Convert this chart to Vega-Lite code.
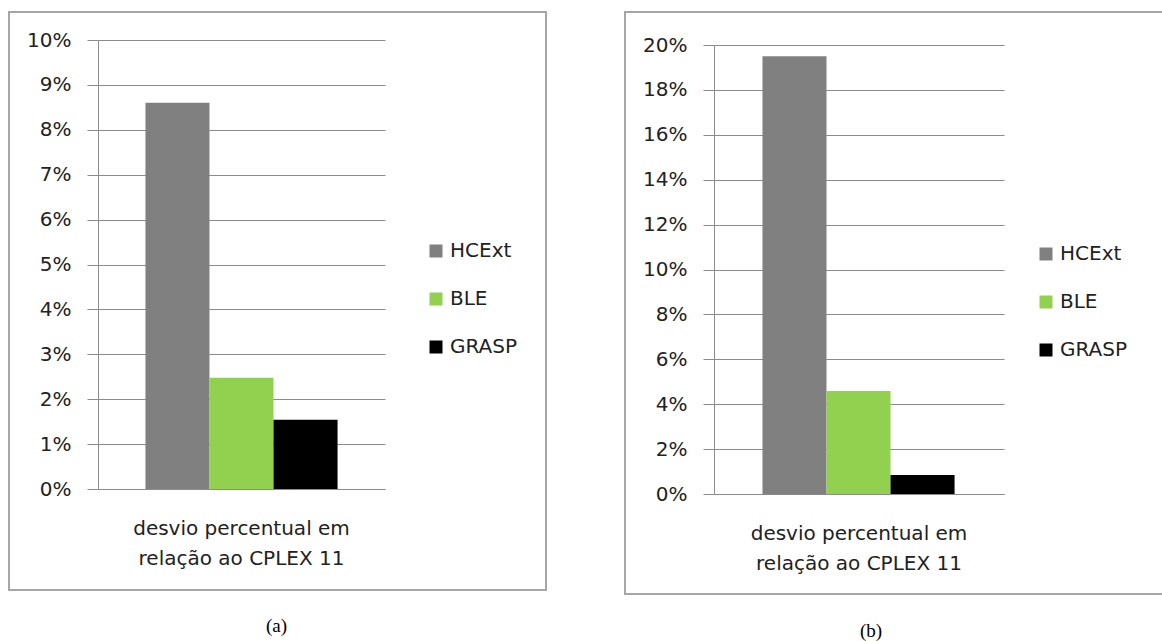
{
  "$schema": "https://vega.github.io/schema/vega-lite/v6.json",
  "padding": {"left": 8, "top": 11, "right": 0, "bottom": 0},
  "spacing": 77,
  "resolve": {"legend": {"color": "independent"}},
  "config": {
    "view": {"stroke": "#A6A6A6", "strokeWidth": 2},
    "font": "DejaVu Sans",
    "axis": {"labelColor": "#222222", "labelFont": "DejaVu Sans"},
    "legend": {"labelColor": "#222222", "labelFont": "DejaVu Sans"}
  },
  "datasets": {
    "a": [
      {"categoria": "desvio percentual em relação ao CPLEX 11", "serie": "HCExt", "desvio": 0.086},
      {"categoria": "desvio percentual em relação ao CPLEX 11", "serie": "BLE", "desvio": 0.0248},
      {"categoria": "desvio percentual em relação ao CPLEX 11", "serie": "GRASP", "desvio": 0.0154}
    ],
    "b": [
      {"categoria": "desvio percentual em relação ao CPLEX 11", "serie": "HCExt", "desvio": 0.195},
      {"categoria": "desvio percentual em relação ao CPLEX 11", "serie": "BLE", "desvio": 0.0459},
      {"categoria": "desvio percentual em relação ao CPLEX 11", "serie": "GRASP", "desvio": 0.0085}
    ]
  },
  "hconcat": [
    {
      "width": 537,
      "height": 578,
      "title": {"text": "(a)", "orient": "bottom", "offset": 27, "dx": -1, "font": "Liberation Serif", "fontSize": 19, "fontWeight": "normal", "color": "#000000", "anchor": "middle"},
      "data": {"name": "a"},
      "mark": {"type": "bar"},
      "encoding": {
        "x": {
          "field": "categoria", "type": "nominal",
          "scale": {"range": [89, 376], "paddingOuter": 0.247, "paddingInner": 0},
          "axis": {"orient": "bottom", "offset": -101, "ticks": false, "domainColor": "#8C8C8C", "labelAngle": 0, "labelPadding": 29, "labelFontSize": 20, "labelLineHeight": 30, "labelLimit": 0, "labelExpr": "[slice(datum.label, 0, 20), slice(datum.label, 21)]", "title": null}
        },
        "xOffset": {"field": "serie", "type": "nominal", "sort": ["HCExt", "BLE", "GRASP"], "scale": {"paddingInner": 0, "paddingOuter": 0}},
        "y": {
          "field": "desvio", "type": "quantitative",
          "scale": {"domain": [0, 0.1], "range": [477, 28], "nice": false},
          "axis": {"values": [0, 0.01, 0.02, 0.03, 0.04, 0.05, 0.06, 0.07, 0.08, 0.09, 0.1], "format": ".0%", "offset": -89, "grid": true, "gridColor": "#8C8C8C", "domainColor": "#8C8C8C", "tickColor": "#8C8C8C", "tickSize": 11, "labelPadding": 16, "labelFontSize": 20, "title": null}
        },
        "color": {
          "field": "serie", "type": "nominal",
          "scale": {"domain": ["HCExt", "BLE", "GRASP"], "range": ["#808080", "#92D050", "#000000"]},
          "legend": {"orient": "none", "legendX": 417, "legendY": 229, "title": null, "symbolType": "square", "symbolSize": 169, "symbolStrokeWidth": 0, "labelFontSize": 20, "rowPadding": 28, "labelOffset": 4}
        }
      }
    },
    {
      "width": 538,
      "height": 582,
      "title": {"text": "(b)", "orient": "bottom", "offset": 28, "dx": -23, "font": "Liberation Serif", "fontSize": 19, "fontWeight": "normal", "color": "#000000", "anchor": "middle"},
      "data": {"name": "b"},
      "mark": {"type": "bar"},
      "encoding": {
        "x": {
          "field": "categoria", "type": "nominal",
          "scale": {"range": [89, 379], "paddingOuter": 0.251, "paddingInner": 0},
          "axis": {"orient": "bottom", "offset": -100, "ticks": false, "domainColor": "#8C8C8C", "labelAngle": 0, "labelPadding": 29, "labelFontSize": 20, "labelLineHeight": 30, "labelLimit": 0, "labelExpr": "[slice(datum.label, 0, 20), slice(datum.label, 21)]", "title": null}
        },
        "xOffset": {"field": "serie", "type": "nominal", "sort": ["HCExt", "BLE", "GRASP"], "scale": {"paddingInner": 0, "paddingOuter": 0}},
        "y": {
          "field": "desvio", "type": "quantitative",
          "scale": {"domain": [0, 0.2], "range": [482, 33], "nice": false},
          "axis": {"values": [0, 0.02, 0.04, 0.06, 0.08, 0.1, 0.12, 0.14, 0.16, 0.18, 0.2], "format": ".0%", "offset": -89, "grid": true, "gridColor": "#8C8C8C", "domainColor": "#8C8C8C", "tickColor": "#8C8C8C", "tickSize": 11, "labelPadding": 16, "labelFontSize": 20, "title": null}
        },
        "color": {
          "field": "serie", "type": "nominal",
          "scale": {"domain": ["HCExt", "BLE", "GRASP"], "range": ["#808080", "#92D050", "#000000"]},
          "legend": {"orient": "none", "legendX": 411, "legendY": 232, "title": null, "symbolType": "square", "symbolSize": 169, "symbolStrokeWidth": 0, "labelFontSize": 20, "rowPadding": 28, "labelOffset": 4}
        }
      }
    }
  ]
}
